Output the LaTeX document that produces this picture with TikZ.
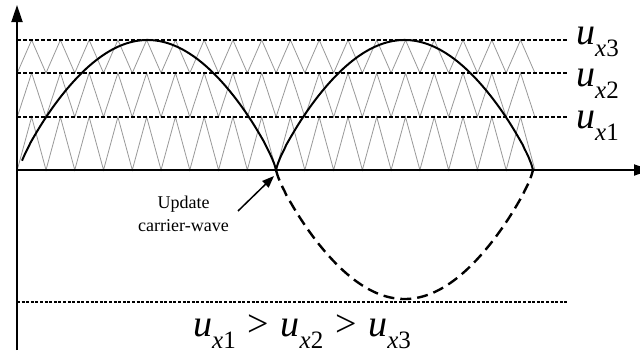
\documentclass[tikz,border=0pt]{standalone}
\usepackage{fontspec}
\setmainfont{Liberation Serif}
\usetikzlibrary{arrows.meta}
\newcommand{\ulab}[1]{{\fontsize{38}{38}\selectfont\itshape u}\raisebox{-12pt}{\fontsize{25}{25}\selectfont\itshape x\upshape #1}}
\newcommand{\ulabb}[1]{{\fontsize{38}{38}\selectfont\itshape u}\raisebox{-12pt}{\fontsize{25}{25}\selectfont\itshape x\upshape #1}}
\newcommand{\gtsign}{\hspace{12pt}{\fontsize{38}{38}\selectfont >}\hspace{11.5pt}}
\begin{document}
\begin{tikzpicture}[x=1pt,y=-1pt,
  axisline/.style={line width=1.8pt,-{Triangle[length=17pt,width=11pt]}},
  levelline/.style={line width=1.5pt,dash pattern=on 4pt off 2pt},
  lowline/.style={line width=1.4pt,dash pattern=on 3pt off 1.6pt},
  carrier/.style={line width=0.8pt,draw=black!40},
  wave/.style={line width=2pt},
  negwave/.style={line width=2.4pt,dash pattern=on 11pt off 6pt},
  note/.style={font=\fontsize{18}{23}\selectfont,inner sep=0pt,anchor=base},
  lab/.style={inner sep=0pt,anchor=base west}]
\useasboundingbox (0,0) rectangle (640,356);
\fill[white] (0,0) rectangle (640,356);
% coordinates
\coordinate (origin) at (17,170);
\coordinate (ybot) at (17,350);
\coordinate (ytop) at (17,5);
\coordinate (xend) at (651,170);
% carriers (phase disposition)
\foreach \lo/\hi in {170/117,117/73,73/40}{
  \draw[carrier] (17.25,\lo)
    \foreach \k in {0,...,17}{ -- ({17.25+28.76*\k+14.38},\hi) -- ({17.25+28.76*(\k+1)},\lo) };
}
% level lines
\coordinate (l3a) at (17,40);  \coordinate (l3b) at (568,40);
\coordinate (l2a) at (17,73);  \coordinate (l2b) at (568,73);
\coordinate (l1a) at (17,117); \coordinate (l1b) at (568,117);
\coordinate (l0a) at (17,302); \coordinate (l0b) at (568,302);
\draw[levelline] (l3a) -- (l3b);
\draw[levelline] (l2a) -- (l2b);
\draw[levelline] (l1a) -- (l1b);
\draw[lowline] (l0a) -- (l0b);
% axes
\draw[axisline] (ybot) -- (ytop);
\draw[axisline] (origin) -- (xend);
% modulating wave
\draw[wave] plot[domain=22:276,samples=150,smooth] (\x,{170-130*pow(abs(sin(0.7004*(\x-19))),0.8)});
\draw[wave] plot[domain=276:533,samples=150,smooth] (\x,{170-130*pow(abs(sin(0.7004*(\x-276))),0.8)});
\draw[negwave] plot[domain=276:533,samples=150,smooth] (\x,{170+129*pow(abs(sin(0.7004*(\x-276))),0.8)});
% labels
\node[lab] (u3) at (576,44) {\ulab{3}};
\node[lab] (u2) at (576,86) {\ulab{2}};
\node[lab] (u1) at (576,128) {\ulab{1}};
\node[lab] (ineq) at (193,336) {\ulabb{1}\gtsign\ulabb{2}\gtsign\ulabb{3}};
% annotation
\node[note] (upd1) at (183.5,208.3) {Update};
\node[note] (upd2) at (183.5,231.5) {carrier-wave};
\coordinate (tail) at (238,211);
\coordinate (tip) at (274,176);
\draw[line width=1.5pt,-{Triangle[length=12pt,width=9pt]}] (tail) -- (tip);
\end{tikzpicture}
\end{document}
